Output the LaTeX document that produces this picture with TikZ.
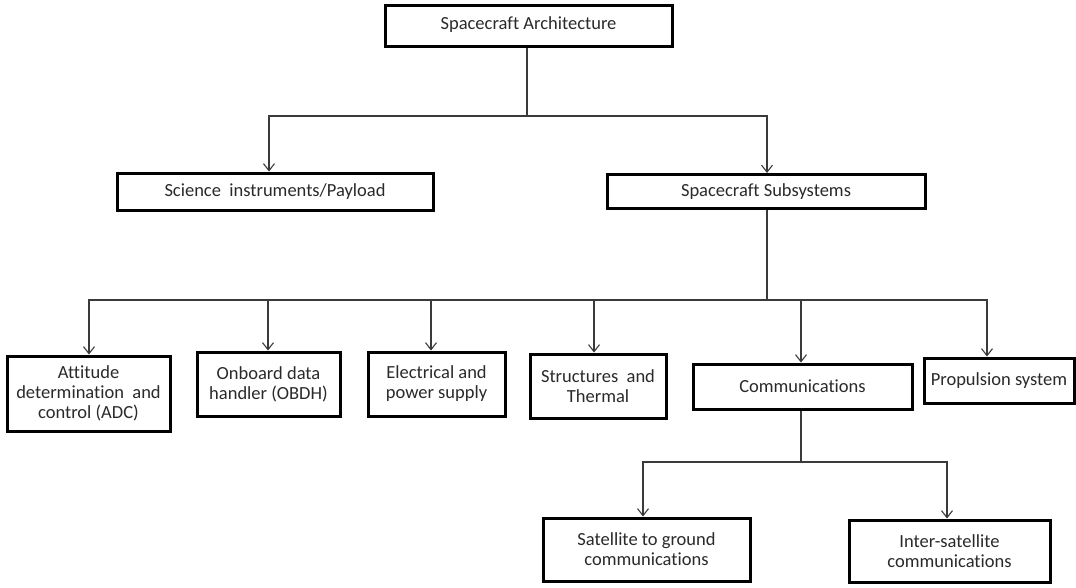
\documentclass[tikz,border=0pt]{standalone}
\usepackage{fontspec}
\setmainfont[Ligatures=NoCommon]{Carlito}
\usetikzlibrary{arrows.meta}
\definecolor{txt}{HTML}{2A2A2A}
\definecolor{ln}{HTML}{3A3A3A}
\tikzset{
  box/.style={draw=black, line width=3pt, inner sep=0pt, align=center, text=txt,
    font=\fontsize{18.5}{20}\selectfont},
  conn/.style={draw=ln, line width=1.1pt},
  arr/.style={conn, -{Straight Barb[length=7pt,width=11pt,line width=1.1pt]}}
}
\begin{document}
\begin{tikzpicture}[x=1pt,y=-1pt]
\useasboundingbox[fill=white] (0,0) rectangle (1076,587);
% boxes
\node[box, minimum width=287pt, minimum height=41pt] (top) at (528.5,25.5) {\raisebox{4pt}{Spacecraft Architecture}};
\node[box, minimum width=316pt, minimum height=37pt] (sci) at (275,191.5) {Science\ \ instruments/Payload};
\node[box, minimum width=318pt, minimum height=34pt] (sub) at (766,191.5) {Spacecraft Subsystems};
\node[box, minimum width=163pt, minimum height=75pt] (adc) at (88.5,393.5) {Attitude\\determination\ \ and\\control (ADC)};
\node[box, minimum width=143pt, minimum height=64pt] (obdh) at (268.5,384) {Onboard data\\handler (OBDH)};
\node[box, minimum width=137pt, minimum height=64pt] (elec) at (436.5,384) {Electrical and\\power supply};
\node[box, minimum width=136pt, minimum height=64pt] (str) at (598,386) {Structures\ \ and\\Thermal};
\node[box, minimum width=219pt, minimum height=45pt] (comm) at (802.5,386.5) {Communications};
\node[box, minimum width=150pt, minimum height=45pt] (prop) at (999,380.5) {Propulsion system};
\node[box, minimum width=207pt, minimum height=63pt] (sat) at (646.5,549.5) {Satellite to ground\\communications};
\node[box, minimum width=201pt, minimum height=62pt] (inter) at (949.5,551) {Inter-satellite\\communications};
% junctions
\coordinate (j1) at (527,116);
\coordinate (j2) at (767,300);
\coordinate (j3) at (801,462);
% connectors
\draw[conn] ([xshift=-1.5pt]top.south) -- (j1);
\draw[arr] (j1) -| ([xshift=-6pt]sci.north);
\draw[arr] (j1) -| ([xshift=1pt]sub.north);
\draw[conn] ([xshift=1pt]sub.south) -- (j2);
\draw[arr] (j2) -| ([xshift=0.5pt]adc.north);
\draw[arr] (j2) -| ([xshift=-0.5pt]obdh.north);
\draw[arr] (j2) -| ([xshift=-5.5pt]elec.north);
\draw[arr] (j2) -| ([xshift=-4pt]str.north);
\draw[arr] (j2) -| ([xshift=-1.5pt]comm.north);
\draw[arr] (j2) -| ([xshift=-12pt]prop.north);
\draw[conn] ([xshift=-1.5pt]comm.south) -- (j3);
\draw[arr] (j3) -| ([xshift=-3.5pt]sat.north);
\draw[arr] (j3) -| ([xshift=-2.5pt]inter.north);
\end{tikzpicture}
\end{document}
